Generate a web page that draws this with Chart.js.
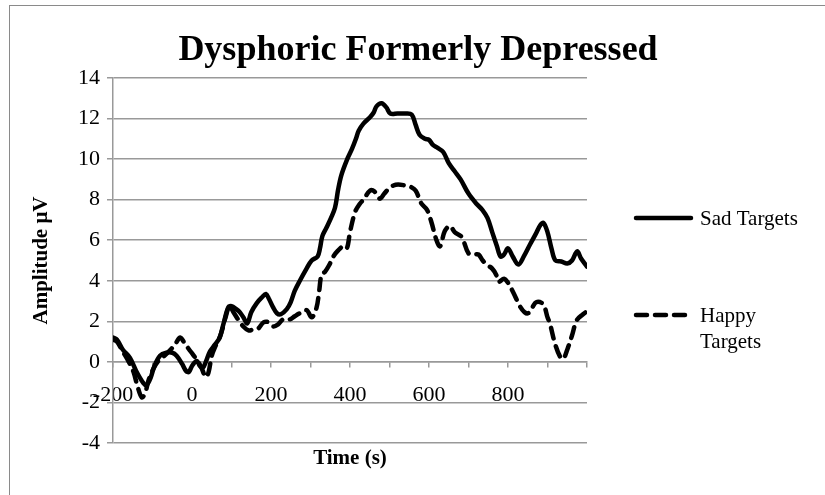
<!DOCTYPE html>
<html lang="en">
<head>
<meta charset="UTF-8">
<title>Dysphoric Formerly Depressed</title>
<script src="https://cdn.jsdelivr.net/npm/chart.js"></script>
<style>
  body { margin: 0; width: 825px; height: 495px; overflow: hidden; background: #fff; position: relative; }
  #frame { position: absolute; left: 9px; top: 5px; width: 1000px; height: 1000px; border: 1.5px solid #8a8a8a; pointer-events: none; }
</style>
</head>
<body>
<canvas id="erpChart" width="825" height="495"></canvas>
<div id="frame"></div>
<script>
// values (time in ms, amplitude in µV)
const chartTitle = 'Dysphoric Formerly Depressed';
const seriesNames = ['Sad Targets', 'Happy Targets'];
const xTickLabels = ['-200', '0', '200', '400', '600', '800'];

const sadTimes = [-200, -190, -175, -157, -140, -123, -115, -105, -95, -81, -65, -50, -39, -25, -15, -8, 0, 12, 20, 27,
  35, 45, 58, 70, 80, 92, 100, 112, 121, 130, 140, 150, 164, 178, 187, 195, 205, 215, 225, 240,
  250, 260, 273, 290, 303, 318, 324, 330, 340, 352, 362, 370, 378, 392, 405, 415, 422, 434, 450, 460,
  467, 480, 492, 502, 520, 540, 556, 566, 576, 590, 600, 610, 622, 636, 650, 665, 680, 700, 720, 735,
  748, 760, 772, 781, 790, 800, 812, 826, 840, 856, 870, 882, 890, 900, 910, 920, 935, 950, 962, 975, 985, 1000];
const sadValues = [1.2, 1.1, 0.6, 0.2, -0.5, -1.05, -1.15, -0.8, -0.2, 0.3, 0.45, 0.45, 0.3, -0.1, -0.45, -0.5, -0.2, 0.05, -0.2, -0.3,
  0, 0.5, 0.85, 1.2, 1.9, 2.7, 2.75, 2.6, 2.45, 2.2, 1.9, 2.45, 2.9, 3.2, 3.35, 3.1, 2.7, 2.4, 2.35, 2.6,
  2.95, 3.5, 4.0, 4.6, 5.0, 5.2, 5.6, 6.2, 6.6, 7.1, 7.6, 8.5, 9.2, 9.95, 10.5, 11.0, 11.4, 11.75, 12.05, 12.3,
  12.6, 12.75, 12.55, 12.25, 12.25, 12.25, 12.2, 11.7, 11.2, 11.0, 10.95, 10.7, 10.55, 10.35, 9.8, 9.4, 9.0, 8.3, 7.8, 7.5,
  7.1, 6.4, 5.7, 5.2, 5.3, 5.6, 5.2, 4.8, 5.2, 5.8, 6.3, 6.75, 6.85, 6.4, 5.6, 5.0, 4.95, 4.85, 5.0, 5.45, 5.1, 4.7];

const happyTimes = [-200, -190, -175, -160, -148, -138, -127, -118, -110, -98, -85, -70, -52, -40, -30, -18, -5, 3, 12, 22,
  35, 42, 50, 60, 72, 85, 95, 105, 118, 130, 143, 155, 168, 181, 195, 206, 218, 231, 248, 260,
  273, 290, 303, 315, 322, 328, 337, 348, 358, 370, 383, 392, 400, 413, 425, 434, 451, 462, 475, 487,
  496, 510, 522, 540, 552, 566, 581, 595, 606, 619, 628, 640, 653, 665, 683, 700, 715, 725, 736, 746,
  760, 770, 776, 790, 800, 814, 830, 842, 851, 862, 872, 889, 900, 906, 919, 932, 940, 950, 962, 974, 990, 1000];
const happyValues = [1.1, 1.0, 0.5, 0.0, -0.5, -1.2, -1.75, -1.5, -0.9, -0.35, 0.05, 0.3, 0.65, 0.95, 1.2, 0.9, 0.55, 0.35, 0.1, -0.2,
  -0.75, -0.5, 0.3, 0.8, 1.3, 2.2, 2.75, 2.45, 2.05, 1.75, 1.55, 1.6, 1.65, 1.95, 1.95, 1.75, 1.85, 2.1, 2.1, 2.25,
  2.4, 2.55, 2.2, 2.65, 3.5, 4.3, 4.45, 4.8, 5.2, 5.5, 5.7, 5.6, 6.4, 7.4, 7.8, 8.0, 8.45, 8.4, 8.05, 8.3,
  8.5, 8.7, 8.75, 8.7, 8.65, 8.45, 7.8, 7.5, 6.9, 6.0, 5.7, 6.45, 6.7, 6.4, 6.15, 5.35, 5.3, 5.3, 5.0, 4.8,
  4.6, 4.3, 3.95, 4.1, 3.9, 3.4, 2.75, 2.45, 2.4, 2.7, 2.95, 2.85, 2.2, 1.9, 0.9, 0.25, 0.15, 0.6, 1.3, 2.05, 2.35, 2.5];

const serif = '"Liberation Serif", "Times New Roman", serif';

// chart title + legend drawn by hand (legend wraps long labels like Excel does)
const labelsPlugin = {
  id: 'labelsPlugin',
  afterDraw(chart) {
    const ctx = chart.ctx;
    ctx.save();
    ctx.fillStyle = '#000';
    ctx.font = 'bold 36px ' + serif;
    ctx.textAlign = 'center';
    ctx.textBaseline = 'alphabetic';
    ctx.fillText(chartTitle, 418, 60);

    const rows = [218, 315];
    chart.data.datasets.forEach((ds, i) => {
      const y = rows[i];
      ctx.beginPath();
      ctx.lineWidth = ds.borderWidth;
      ctx.lineCap = 'round';
      ctx.strokeStyle = ds.borderColor;
      ctx.setLineDash(ds.borderDash || []);
      ctx.moveTo(636, y);
      ctx.lineTo(691, y);
      ctx.stroke();
      ctx.setLineDash([]);

      ctx.font = '21px ' + serif;
      ctx.textAlign = 'left';
      ctx.textBaseline = 'middle';
      const lines = [];
      let cur = '';
      ds.label.split(' ').forEach(w => {
        const t = cur ? cur + ' ' + w : w;
        if (cur && ctx.measureText(t).width > 105) { lines.push(cur); cur = w; } else { cur = t; }
      });
      lines.push(cur);
      lines.forEach((l, k) => ctx.fillText(l, 700, y + 1 + k * 26));
    });
    ctx.restore();
  }
};

new Chart(document.getElementById('erpChart'), {
  type: 'line',
  data: {
    datasets: [
      {
        label: seriesNames[0],
        data: sadTimes.map((t, i) => ({ x: t, y: sadValues[i] })),
        borderColor: '#000',
        borderWidth: 4.5,
        borderCapStyle: 'round',
        borderJoinStyle: 'round',
        pointRadius: 0,
        tension: 0.35
      },
      {
        label: seriesNames[1],
        data: happyTimes.map((t, i) => ({ x: t, y: happyValues[i] })),
        borderColor: '#000',
        borderWidth: 4.5,
        borderDash: [11, 8],
        borderCapStyle: 'round',
        borderJoinStyle: 'round',
        pointRadius: 0,
        tension: 0.35
      }
    ]
  },
  options: {
    responsive: false,
    animation: false,
    layout: { padding: { left: 10, right: 238, top: 78, bottom: 52 } },
    plugins: {
      legend: { display: false },
      title: { display: false },
      tooltip: { enabled: false }
    },
    scales: {
      x: {
        type: 'linear',
        min: -200,
        max: 1000,
        position: { y: 0 },
        grid: { drawOnChartArea: false, color: '#999', lineWidth: 1.5, tickLength: 5 },
        border: { color: '#999', width: 1.5 },
        ticks: {
          stepSize: 100,
          autoSkip: false,
          maxRotation: 0,
          padding: 15,
          color: '#000',
          font: { family: serif, size: 22 },
          callback: v => xTickLabels.includes(String(v)) ? String(v) : ''
        },
        title: {
          display: true,
          text: 'Time (s)',
          color: '#000',
          font: { family: serif, size: 21, weight: 'bold' },
          padding: { top: 23, bottom: 0 }
        }
      },
      y: {
        min: -4,
        max: 14,
        grid: { color: '#999', lineWidth: 1.5, tickLength: 6 },
        border: { color: '#999', width: 1.5 },
        ticks: { stepSize: 2, padding: 7, color: '#000', font: { family: serif, size: 22 } },
        title: {
          display: true,
          text: 'Amplitude μV',
          color: '#000',
          font: { family: serif, size: 21, weight: 'bold' },
          padding: { top: 19, bottom: 0 }
        },
        afterFit(scale) { scale.width = 103; }
      }
    }
  },
  plugins: [labelsPlugin]
});
</script>
</body>
</html>
